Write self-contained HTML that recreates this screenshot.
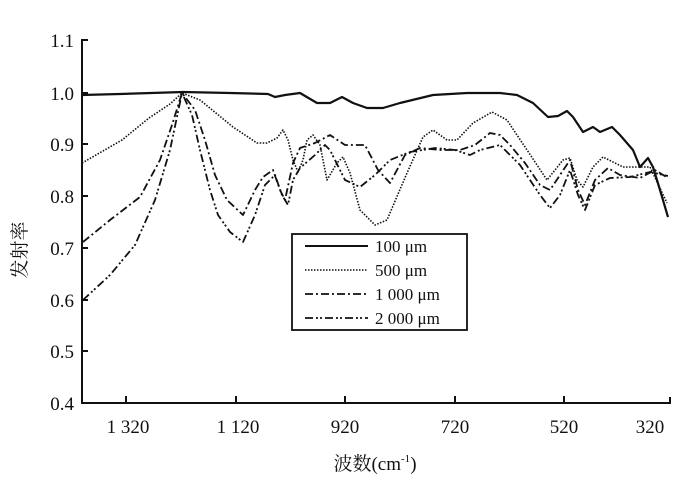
<!DOCTYPE html>
<html><head><meta charset="utf-8"><style>
body{margin:0;background:#fff}
svg{display:block}
text{font-family:"Liberation Serif","Noto Serif CJK SC",serif;fill:#111}
</style></head><body>
<svg width="700" height="492" viewBox="0 0 700 492">
<g stroke="#111" stroke-width="2" fill="none">
<polyline points="88,40 82,40 82,403 670,403 670,397"/>
<line x1="82" y1="93" x2="88" y2="93"/>
<line x1="82" y1="144" x2="88" y2="144"/>
<line x1="82" y1="196" x2="88" y2="196"/>
<line x1="82" y1="248" x2="88" y2="248"/>
<line x1="82" y1="300" x2="88" y2="300"/>
<line x1="82" y1="351" x2="88" y2="351"/>
<line x1="126" y1="403" x2="126" y2="396"/>
<line x1="236" y1="403" x2="236" y2="396"/>
<line x1="345" y1="403" x2="345" y2="396"/>
<line x1="455" y1="403" x2="455" y2="396"/>
<line x1="564" y1="403" x2="564" y2="396"/>
</g>
<g font-size="19" text-anchor="end">
<text x="74" y="47">1.1</text><text x="74" y="100">1.0</text><text x="74" y="151">0.9</text>
<text x="74" y="203">0.8</text><text x="74" y="255">0.7</text><text x="74" y="307">0.6</text>
<text x="74" y="358">0.5</text><text x="74" y="410">0.4</text>
</g>
<g font-size="19" text-anchor="middle">
<text x="128" y="433">1 320</text><text x="238" y="433">1 120</text><text x="345" y="433">920</text>
<text x="455" y="433">720</text><text x="564" y="433">520</text><text x="650" y="433">320</text>
<text x="375" y="470">波数(cm<tspan font-size="11" dy="-8">-1</tspan><tspan dy="8">)</tspan></text>
</g>
<text font-size="19" transform="translate(26,250) rotate(-90)" text-anchor="middle">发射率</text>
<g fill="none" stroke="#111" stroke-linejoin="round">
<polyline stroke-width="2.2" points="82,95 120,94 183,92 230,93 268,94 275,97 285,95 300,93 317,103 330,103 342,97 353,103 367,108 383,108 400,103 433,95 467,93 500,93 517,95 533,103 548,117 558,116 567,111 573,117 583,132 593,127 600,132 612,127 620,135 633,150 640,167 648,158 653,167 660,190 668,217"/>
<polyline stroke-width="1.6" stroke-dasharray="1.5,1.5" points="82,163 122,140 149,118 170,104 182,93 200,100 233,127 257,143 267,143 277,138 283,130 288,140 293,160 298,172 303,160 307,140 313,135 320,145 327,180 337,163 343,157 350,173 360,210 375,225 387,220 407,173 423,137 433,130 447,140 457,140 473,123 492,112 507,120 527,150 547,180 563,160 570,158 577,180 583,187 593,167 603,157 613,162 623,167 637,167 650,167 667,203"/>
<polyline stroke-width="1.8" stroke-dasharray="8,3,2,3" points="83,242 110,220 140,197 160,160 172,125 182,93 195,110 205,140 215,175 227,200 243,215 255,190 263,177 273,170 280,190 285,200 293,163 300,148 315,143 330,135 345,145 365,145 378,170 390,183 405,155 420,148 440,150 460,150 475,145 490,133 500,135 510,145 525,163 540,185 550,190 560,175 570,160 578,190 585,205 595,180 608,168 620,175 640,178 655,170 668,178"/>
<polyline stroke-width="1.8" stroke-dasharray="8,3,2,2,2,3" points="83,300 110,275 135,245 155,200 170,150 182,93 192,115 200,150 210,190 218,215 230,232 243,242 255,215 265,185 275,175 282,195 288,205 293,180 300,168 315,155 325,145 330,150 345,180 360,187 375,175 390,160 410,152 435,148 455,150 470,155 480,150 500,145 520,165 540,195 550,208 560,195 570,170 578,195 585,210 595,185 610,178 630,177 650,172 668,176"/>
</g>
<rect x="292" y="234" width="175" height="96" fill="#fff" stroke="#111" stroke-width="1.8"/>
<g fill="none" stroke="#111">
<line x1="305" y1="246" x2="368" y2="246" stroke-width="2"/>
<line x1="305" y1="270" x2="368" y2="270" stroke-width="1.6" stroke-dasharray="1.5,1.5"/>
<line x1="305" y1="294" x2="368" y2="294" stroke-width="1.8" stroke-dasharray="8,3,2,3"/>
<line x1="305" y1="318" x2="368" y2="318" stroke-width="1.8" stroke-dasharray="8,3,2,2,2,3"/>
</g>
<g font-size="17">
<text x="375" y="252">100 μm</text><text x="375" y="276">500 μm</text>
<text x="375" y="300">1 000 μm</text><text x="375" y="324">2 000 μm</text>
</g>
</svg>
</body></html>
